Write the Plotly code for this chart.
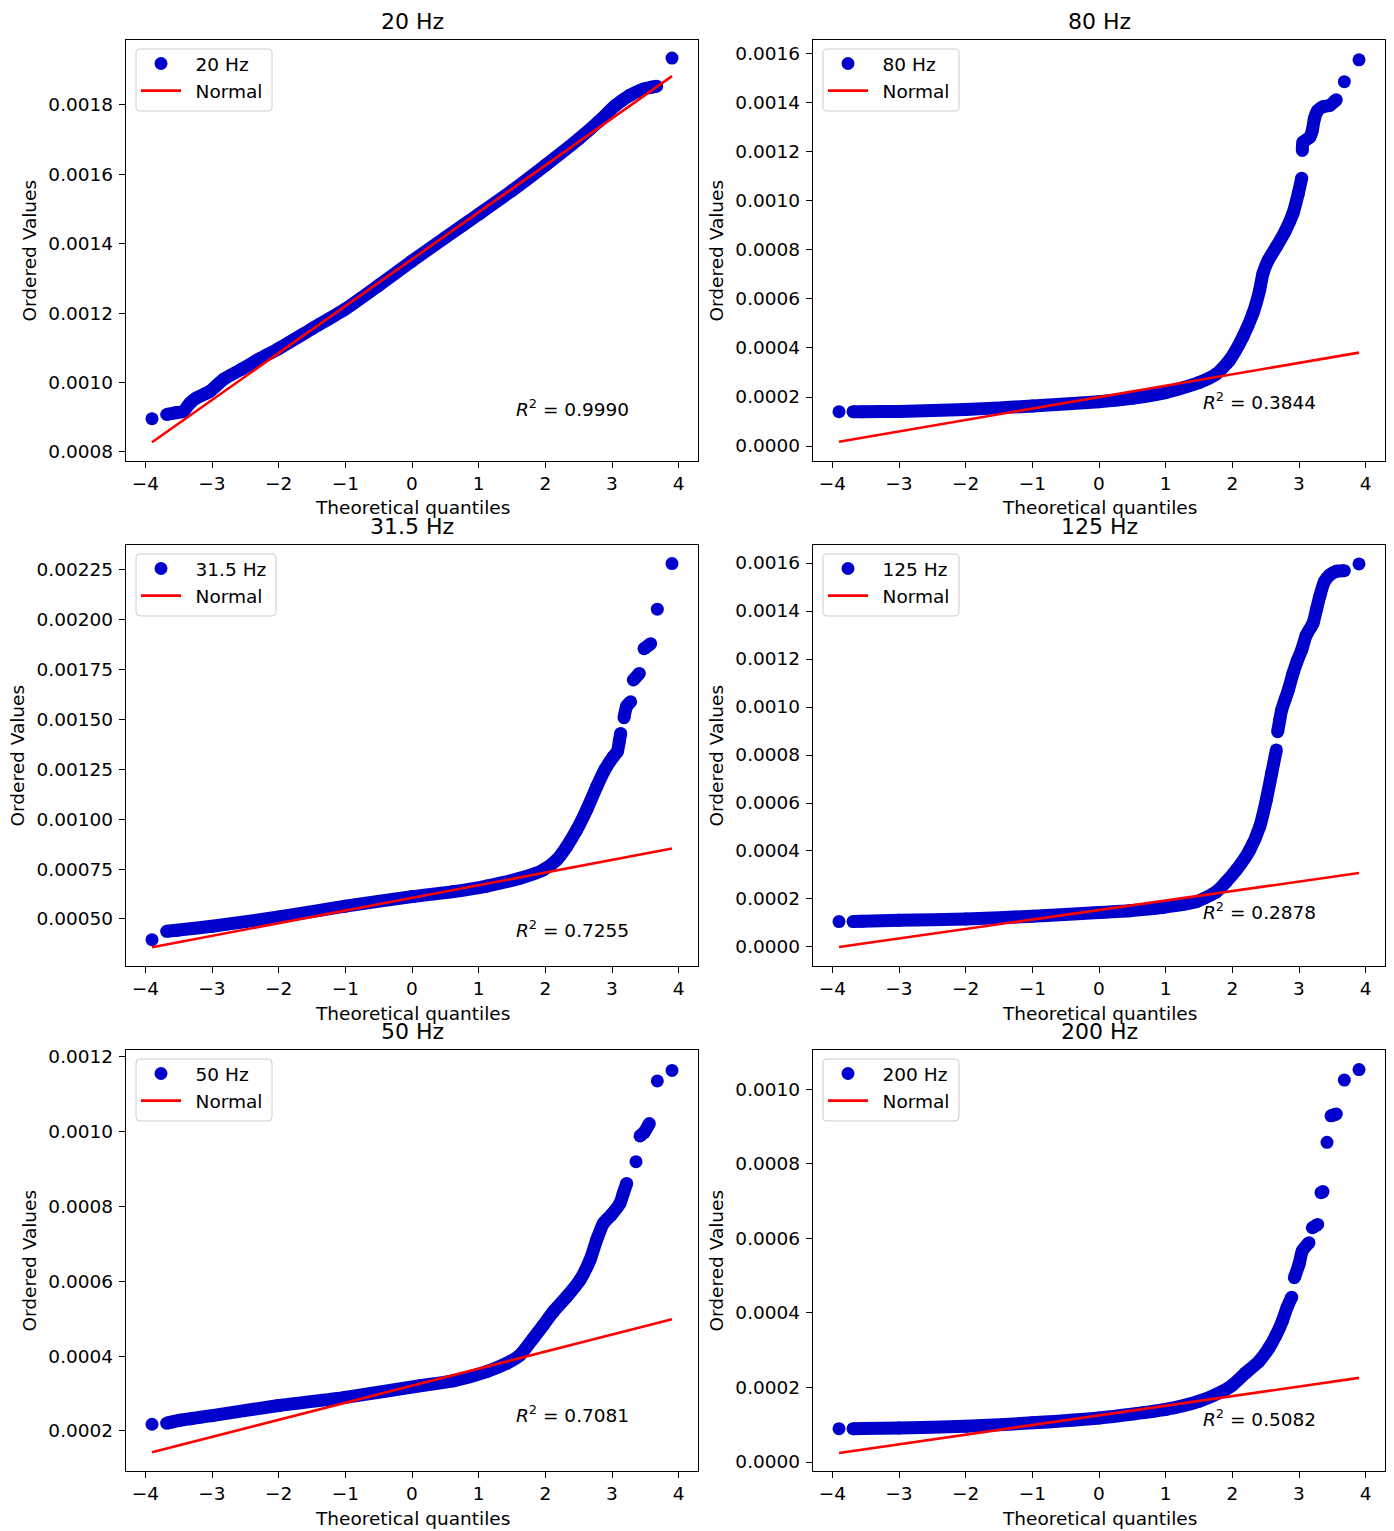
import plotly.graph_objects as go

# ---------------------------------------------------------------------------
# Q-Q data per frequency band: theoretical quantiles and ordered values
# ---------------------------------------------------------------------------
labels = ["20 Hz", "80 Hz", "31.5 Hz", "125 Hz", "50 Hz", "200 Hz"]
r_squared = ["0.9990", "0.3844", "0.7255", "0.2878", "0.7081", "0.5082"]

q_20 = [-3.90, -3.68, -3.55, -3.43, -3.33, -3.23, -3.03, -2.83, -2.56, -2.29, -2.00,
        -1.50, -1.00, -0.50, 0.00, 0.50, 1.00, 1.50, 2.00, 2.50, 2.80, 3.05, 3.26,
        3.46, 3.59, 3.67, 3.90]
v_20 = [0.000896, 0.000908, 0.000913, 0.000917, 0.000941, 0.000956, 0.000975, 0.001009,
        0.001038, 0.001068, 0.001098, 0.001155, 0.001212, 0.001280, 0.001350, 0.001418,
        0.001485, 0.001553, 0.001626, 0.001702, 0.001752, 0.001798, 0.001827, 0.001845,
        0.001851, 0.001854, 0.001935]

q_80 = [-3.90, -3.69, -3.55, -3.00, -2.00, -1.00, 0.00, 0.50, 1.00, 1.50, 1.76, 1.96,
        2.16, 2.31, 2.41, 2.46, 2.54, 2.66, 2.79, 2.91, 2.99, 3.04, 3.05, 3.06, 3.16,
        3.20, 3.23, 3.28, 3.36, 3.46, 3.56, 3.68, 3.90]
v_80 = [0.000140, 0.000140, 0.000140, 0.000141, 0.000149, 0.000163, 0.000181, 0.000195,
        0.000218, 0.000259, 0.000294, 0.000351, 0.000446, 0.000542, 0.000637, 0.000705,
        0.000759, 0.000813, 0.000875, 0.000950, 0.001031, 0.001093, 0.001206, 0.001240,
        0.001260, 0.001288, 0.001335, 0.001369, 0.001385, 0.001390, 0.001413, 0.001487,
        0.001576]

q_31 = [-3.90, -3.68, -3.53, -3.00, -2.00, -1.00, 0.00, 0.62, 1.12, 1.62, 1.97, 2.17,
        2.32, 2.47, 2.62, 2.77, 2.89, 3.02, 3.08, 3.11, 3.13, 3.18, 3.22, 3.28, 3.32,
        3.41, 3.48, 3.58, 3.68, 3.90]
v_31 = [0.000396, 0.000438, 0.000443, 0.000463, 0.000510, 0.000564, 0.000612, 0.000637,
        0.000665, 0.000704, 0.000746, 0.000796, 0.000863, 0.000946, 0.001047, 0.001163,
        0.001247, 0.001314, 0.001339, 0.001392, 0.001430, 0.001509, 0.001567, 0.001589,
        0.001698, 0.001731, 0.001855, 0.001880, 0.002053, 0.002282]

q_125 = [-3.90, -3.69, -3.55, -3.00, -2.00, -1.00, 0.00, 0.46, 0.96, 1.46, 1.76, 1.91,
         2.06, 2.26, 2.41, 2.51, 2.59, 2.66, 2.68, 2.71, 2.74, 2.79, 2.84, 2.91, 2.97,
         3.04, 3.11, 3.21, 3.26, 3.31, 3.38, 3.46, 3.56, 3.68, 3.90]
v_125 = [0.000106, 0.000106, 0.000107, 0.000111, 0.000117, 0.000128, 0.000144, 0.000151,
         0.000165, 0.000189, 0.000230, 0.000272, 0.000321, 0.000404, 0.000501, 0.000613,
         0.000724, 0.000821, 0.000897, 0.000945, 0.000988, 0.001030, 0.001071, 0.001140,
         0.001190, 0.001238, 0.001300, 0.001349, 0.001404, 0.001460, 0.001522, 0.001550,
         0.001566, 0.001568, 0.001596]

q_50 = [-3.90, -3.68, -3.50, -3.00, -2.00, -1.00, 0.12, 0.62, 1.12, 1.42, 1.62, 1.82,
        1.97, 2.12, 2.32, 2.52, 2.67, 2.77, 2.87, 2.99, 3.12, 3.17, 3.22, 3.36, 3.42,
        3.48, 3.56, 3.68, 3.90]
v_50 = [0.000218, 0.000221, 0.000228, 0.000241, 0.000268, 0.000290, 0.000321, 0.000334,
        0.000359, 0.000381, 0.000403, 0.000448, 0.000483, 0.000519, 0.000559, 0.000604,
        0.000657, 0.000711, 0.000755, 0.000778, 0.000809, 0.000836, 0.000862, 0.000920,
        0.000989, 0.000998, 0.001022, 0.001136, 0.001164]

q_200 = [-3.90, -3.69, -3.55, -3.00, -2.00, -1.00, 0.00, 1.00, 1.50, 1.80, 2.00, 2.20,
         2.40, 2.55, 2.65, 2.75, 2.82, 2.89, 2.93, 3.00, 3.05, 3.15, 3.20, 3.28, 3.33,
         3.36, 3.42, 3.48, 3.56, 3.68, 3.90]
v_200 = [0.0000895, 0.0000895, 0.0000900, 0.0000913, 0.0000958, 0.000105, 0.000118,
         0.000141, 0.000163, 0.000185, 0.000206, 0.000239, 0.000270, 0.000306, 0.000338,
         0.000378, 0.000414, 0.000442, 0.000494, 0.000530, 0.000566, 0.000588, 0.000628,
         0.000637, 0.000722, 0.000725, 0.000857, 0.000928, 0.000933, 0.001024, 0.001052]

# least-squares normal reference lines, evaluated at the quantile extremes
fit_q = [-3.90, 3.90]
fit_20 = [0.000828, 0.001883]
fit_80 = [0.0000177, 0.000381]
fit_31 = [0.000358, 0.000853]
fit_125 = [0.0, 0.000308]
fit_50 = [0.000143, 0.000499]
fit_200 = [0.0000242, 0.0002256]

# y-axis ticks
yt_20 = [0.0008, 0.0010, 0.0012, 0.0014, 0.0016, 0.0018]
yt_80 = [0.0, 0.0002, 0.0004, 0.0006, 0.0008, 0.0010, 0.0012, 0.0014, 0.0016]
yt_31 = [0.0005, 0.00075, 0.0010, 0.00125, 0.0015, 0.00175, 0.0020, 0.00225]
yt_125 = [0.0, 0.0002, 0.0004, 0.0006, 0.0008, 0.0010, 0.0012, 0.0014, 0.0016]
yt_50 = [0.0002, 0.0004, 0.0006, 0.0008, 0.0010, 0.0012]
yt_200 = [0.0, 0.0002, 0.0004, 0.0006, 0.0008, 0.0010]
x_ticks = [-4, -3, -2, -1, 0, 1, 2, 3, 4]

# ---------------------------------------------------------------------------
# Layout geometry (pixels)
# ---------------------------------------------------------------------------
W, H = 1394, 1531
COL_LEFT = [126, 813]
PLOT_W = 572
ROW_TOP = [40, 545, 1050]
PLOT_H = 421
X_RANGE = [-4.29, 4.29]

FONT = "DejaVu Sans"
TICK_SIZE = 18.5
BLUE = "#0000CC"
RED = "#FF0000"
MARKER = 13
GAP = "\u00a0\u2009"   # extra room between legend symbol and its label

# index runs (inclusive) where the ordered values are packed so tightly that the
# markers merge into a continuous band; isolated tail points stay as lone dots
dense_runs = [
    [(1, 25)],
    [(1, 21), (22, 30)],
    [(1, 20), (21, 23), (24, 25), (26, 27)],
    [(1, 17), (18, 33)],
    [(1, 22), (24, 26)],
    [(1, 17), (18, 21), (22, 23), (24, 25), (27, 28)],
]

panels = [
    dict(q=q_20, v=v_20, fit=fit_20, yt=yt_20, fmt="{:.4f}", yr=[0.000774, 0.001987], r2y=0.126),
    dict(q=q_80, v=v_80, fit=fit_80, yt=yt_80, fmt="{:.4f}", yr=[-0.0000612, 0.001657], r2y=0.143),
    dict(q=q_31, v=v_31, fit=fit_31, yt=yt_31, fmt="{:.5f}", yr=[0.000264, 0.002375], r2y=0.088),
    dict(q=q_125, v=v_125, fit=fit_125, yt=yt_125, fmt="{:.4f}", yr=[-0.0000792, 0.001675], r2y=0.131),
    dict(q=q_50, v=v_50, fit=fit_50, yt=yt_50, fmt="{:.4f}", yr=[0.000093, 0.0012187], r2y=0.135),
    dict(q=q_200, v=v_200, fit=fit_200, yt=yt_200, fmt="{:.4f}", yr=[-0.0000241, 0.0011046], r2y=0.126),
]
ylabel_shift = [-97, -97, -109, -97, -97, -97]
legend_box_w = [136, 136, 140, 136, 136, 136]


def band_path(q, v, runs):
    xs, ys = [], []
    for a, b in runs:
        xs += q[a:b + 1] + [None]
        ys += v[a:b + 1] + [None]
    return xs, ys


def rounded_box(x0, y0, x1, y1, r):
    """SVG path (paper coordinates) of a rounded rectangle given in pixels."""
    def P(px, py):
        return f"{px / W:.6f},{1 - py / H:.6f}"
    return (f"M{P(x0 + r, y0)} L{P(x1 - r, y0)} Q{P(x1, y0)} {P(x1, y0 + r)} "
            f"L{P(x1, y1 - r)} Q{P(x1, y1)} {P(x1 - r, y1)} "
            f"L{P(x0 + r, y1)} Q{P(x0, y1)} {P(x0, y1 - r)} "
            f"L{P(x0, y0 + r)} Q{P(x0, y0)} {P(x0 + r, y0)} Z")


fig = go.Figure()
annotations = []
shapes = []
layout_axes = {}

for k, p in enumerate(panels):
    row, col = divmod(k, 2)
    sfx = "" if k == 0 else str(k + 1)
    xa, ya = "x" + sfx, "y" + sfx
    leg = "legend" + sfx

    left, top = COL_LEFT[col], ROW_TOP[row]
    xdom = [left / W, (left + PLOT_W) / W]
    ydom = [1 - (top + PLOT_H) / H, 1 - top / H]

    bx, by = band_path(p["q"], p["v"], dense_runs[k])
    fig.add_trace(go.Scatter(
        x=bx, y=by, xaxis=xa, yaxis=ya, mode="lines",
        line=dict(color=BLUE, width=MARKER, shape="spline", smoothing=0.6),
        showlegend=False, hoverinfo="skip", connectgaps=False,
    ))
    fig.add_trace(go.Scatter(
        x=p["q"], y=p["v"], xaxis=xa, yaxis=ya, mode="markers", name=GAP + labels[k],
        marker=dict(color=BLUE, size=MARKER, line=dict(width=0)), legend=leg,
    ))
    fig.add_trace(go.Scatter(
        x=fit_q, y=p["fit"], xaxis=xa, yaxis=ya, mode="lines", name=GAP + "Normal",
        line=dict(color=RED, width=2.6), legend=leg,
    ))

    axis_common = dict(
        showline=True, mirror=True, linecolor="black", linewidth=1.4,
        ticks="outside", ticklen=6, tickwidth=1.4, tickcolor="black",
        showgrid=False, zeroline=False, automargin=False,
        tickfont=dict(family=FONT, size=TICK_SIZE, color="black"),
    )
    layout_axes["xaxis" + sfx] = dict(
        axis_common, domain=xdom, range=X_RANGE, anchor=ya,
        tickvals=x_ticks,
        ticktext=[("\u2212" + str(-t)) if t < 0 else str(t) for t in x_ticks],
    )
    layout_axes["yaxis" + sfx] = dict(
        axis_common, domain=ydom, range=p["yr"], anchor=xa, ticklabelstandoff=2,
        tickvals=p["yt"], ticktext=[p["fmt"].format(t) for t in p["yt"]],
    )
    layout_axes[leg] = dict(
        x=(left + 10) / W, y=1 - (top + 5) / H, xanchor="left", yanchor="top",
        xref="paper", yref="paper",
        bgcolor="rgba(0,0,0,0)", borderwidth=0,
        font=dict(family=FONT, size=TICK_SIZE, color="black"),
        itemwidth=40, itemsizing="trace", tracegroupgap=0,
    )
    # legend frame
    shapes.append(dict(
        type="path", xref="paper", yref="paper", layer="above",
        path=rounded_box(left + 10, top + 9, left + 10 + legend_box_w[k], top + 71, 4),
        fillcolor="rgba(255,255,255,0.8)", line=dict(color="#cccccc", width=1),
    ))

    # panel title
    annotations.append(dict(
        text=labels[k], xref=xa + " domain", yref=ya + " domain", x=0.5, y=1,
        yshift=19, xanchor="center", yanchor="middle", showarrow=False,
        font=dict(family=FONT, size=22, color="black"),
    ))
    # axis titles
    annotations.append(dict(
        text="Theoretical quantiles", xref=xa + " domain", yref=ya + " domain",
        x=0.5, y=0, yshift=-47, xanchor="center", yanchor="middle", showarrow=False,
        font=dict(family=FONT, size=TICK_SIZE, color="black"),
    ))
    annotations.append(dict(
        text="Ordered Values", xref=xa + " domain", yref=ya + " domain",
        x=0, y=0.5, xshift=ylabel_shift[k], xanchor="center", yanchor="middle",
        textangle=-90, showarrow=False,
        font=dict(family=FONT, size=TICK_SIZE, color="black"),
    ))
    # goodness-of-fit label
    annotations.append(dict(
        text="<i>R</i><sup>2</sup> = " + r_squared[k], xref=xa, yref=ya + " domain",
        x=1.53, y=p["r2y"], xanchor="left", yanchor="middle", showarrow=False,
        font=dict(family=FONT, size=TICK_SIZE, color="black"),
    ))

fig.update_layout(
    template="none",
    width=W, height=H, autosize=False, margin=dict(l=0, r=0, t=0, b=0, pad=0),
    paper_bgcolor="white", plot_bgcolor="white",
    annotations=annotations, shapes=shapes, **layout_axes,
)

fig.write_html("out.html")
